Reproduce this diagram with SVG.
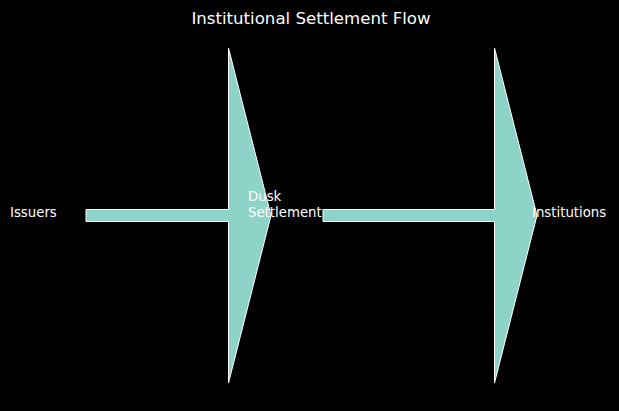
<svg xmlns="http://www.w3.org/2000/svg" width="619" height="411" viewBox="0 0 619 411">
<style>
.flow{fill:#8dd3c7;stroke:#ffffff;stroke-width:1;stroke-linejoin:miter}
text{font-family:"DejaVu Sans",sans-serif;fill:#ffffff}
.lbl{font-size:13.3px}
.ttl{font-size:16.6px}
</style>
<rect width="619" height="411" fill="#000000"/>
<text class="ttl" x="311" y="24" text-anchor="middle">Institutional Settlement Flow</text>
<g id="connectors">
<path id="flow1" class="flow" d="M86,209.5 L228.5,209.5 L228.5,48 L271,215.5 L228.5,383 L228.5,221.5 L86,221.5 Z"/>
<path id="flow2" class="flow" d="M323,209.5 L494.5,209.5 L494.5,48 L537,215.5 L494.5,383 L494.5,221.5 L323,221.5 Z"/>
</g>
<g id="node-issuers"><text class="lbl" x="10" y="217">Issuers</text></g>
<g id="node-dusk"><text class="lbl" x="248" y="201">Dusk</text><text class="lbl" x="248" y="217">Settlement</text></g>
<g id="node-institutions"><text class="lbl" x="532" y="217">Institutions</text></g>
</svg>
